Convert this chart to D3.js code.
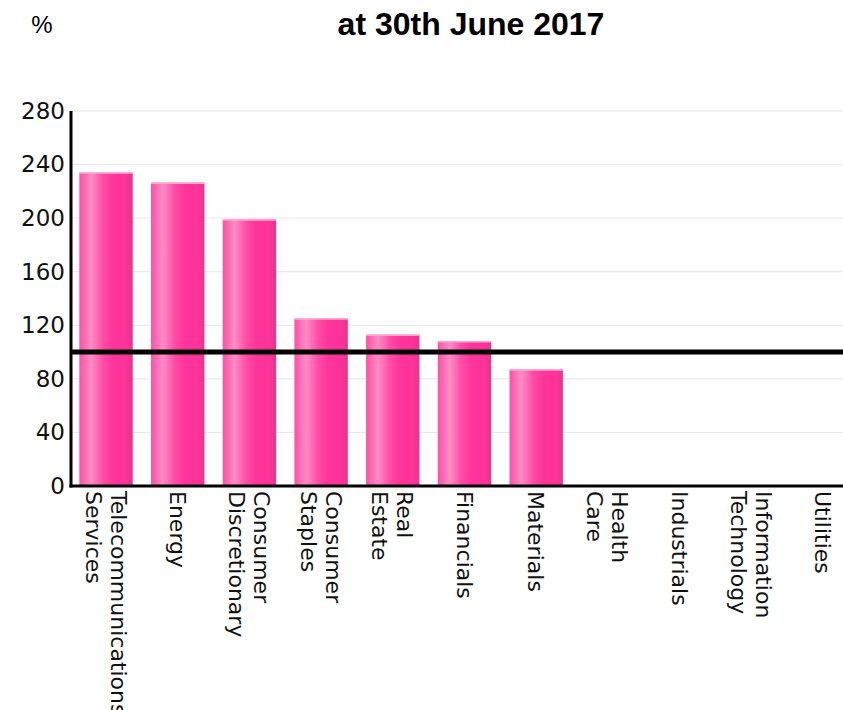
<!DOCTYPE html>
<html lang="en">
<head>
    <meta charset="UTF-8">
    <title>Sector weighting at 30th June 2017</title>
    <script src="https://d3js.org/d3.v7.min.js"></script>
    <style>
        body { margin: 0; background: #fff; }
        .title { font-family: "Liberation Sans", Arial, sans-serif; font-weight: bold; font-size: 32px; }
        .unit  { font-family: "Liberation Sans", Arial, sans-serif; font-size: 24px; }
        .tick text { font-family: "DejaVu Sans", sans-serif; }
    </style>
</head>
<body>
<svg height="710" width="843"></svg>

<script>
    const svg = d3.select("svg");

    // data
    const sectors = [
        ["Telecommunications", "Services"],
        ["Energy"],
        ["Consumer", "Discretionary"],
        ["Consumer", "Staples"],
        ["Real", "Estate"],
        ["Financials"],
        ["Materials"],
        ["Health", "Care"],
        ["Industrials"],
        ["Information", "Technology"],
        ["Utilities"]
    ];
    const weights   = [234, 226.5, 199, 125, 113, 108, 87, 0, 0, 0, 0];
    const yTicks    = [0, 40, 80, 120, 160, 200, 240, 280];
    const benchmark = 100;

    const names = sectors.map(d => d.join(" "));

    const x = d3.scaleBand()
        .domain(names)
        .range([71, 858])
        .paddingInner(0.255)
        .paddingOuter(0.116);

    const y = d3.scaleLinear()
        .domain([0, 280])
        .range([486, 111]);

    // bar gradient
    const grad = svg.append("defs").append("linearGradient")
        .attr("id", "barGrad").attr("x1", "0").attr("x2", "1").attr("y1", "0").attr("y2", "0");
    [[0, "#ff4fa8"], [0.22, "#ff8cc5"], [0.45, "#ff4aa5"], [0.65, "#ff3399"], [0.88, "#fd3398"], [1, "#e2388d"]]
        .forEach(([o, c]) => grad.append("stop").attr("offset", o).attr("stop-color", c));

    // title
    svg.append("text").attr("class", "title")
        .attr("x", 471).attr("y", 35).attr("text-anchor", "middle")
        .text("at 30th June 2017");
    svg.append("text").attr("class", "unit")
        .attr("x", 42).attr("y", 33).attr("text-anchor", "middle")
        .text("%");

    // gridlines
    svg.selectAll("line.grid")
        .data(yTicks.filter(d => d > 0))
        .join("line").attr("class", "grid")
          .attr("x1", 71).attr("x2", 843)
          .attr("y1", d => y(d)).attr("y2", d => y(d))
          .style("stroke", "#e6e6ef").style("stroke-width", 1);

    // bars
    const bars = svg.selectAll("g.bar")
        .data(names.map((n, i) => ({name: n, value: weights[i]})).filter(d => d.value > 0))
        .join("g").attr("class", "bar");
    bars.append("rect")
        .attr("x", d => x(d.name))
        .attr("y", d => y(d.value))
        .attr("width", x.bandwidth())
        .attr("height", d => y(0) - y(d.value))
        .style("fill", "url(#barGrad)");
    bars.append("line")
        .attr("x1", d => x(d.name)).attr("x2", d => x(d.name) + x.bandwidth())
        .attr("y1", d => y(d.value) + 0.5).attr("y2", d => y(d.value) + 0.5)
        .style("stroke", "#ffa6d0").style("stroke-width", 1.5);

    // y axis
    const yAxis = svg.append("g")
        .attr("transform", "translate(71,0)")
        .call(d3.axisLeft(y).tickValues(yTicks).tickSize(0).tickPadding(6));
    yAxis.select(".domain").remove();
    yAxis.selectAll(".tick text")
        .style("font-size", "23px").style("fill", "#111");

    svg.append("line")
        .attr("x1", 71).attr("x2", 71).attr("y1", y(280)).attr("y2", y(0) + 1.5)
        .style("stroke", "#000").style("stroke-width", 3);

    // x axis
    const xAxis = svg.append("g")
        .attr("transform", `translate(0,${y(0)})`)
        .call(d3.axisBottom(x).tickSize(0).tickFormat(""));
    xAxis.select(".domain").remove();

    svg.append("line")
        .attr("x1", 69.5).attr("x2", 843).attr("y1", y(0)).attr("y2", y(0))
        .style("stroke", "#000").style("stroke-width", 3);

    // rotated category labels
    const lh = 25;
    xAxis.selectAll(".tick").each(function(d, i) {
        const lines = sectors[i];
        const t = d3.select(this).select("text")
            .attr("transform", "translate(0,5) rotate(90)")
            .attr("x", 0).attr("y", 0).attr("dy", null)
            .attr("text-anchor", "start")
            .style("font-family", "'DejaVu Sans', sans-serif")
            .style("font-size", "22px")
            .style("fill", "#111");
        lines.forEach((l, j) => {
            t.append("tspan")
             .attr("x", 0)
             .attr("y", (j - (lines.length - 1) / 2) * lh + 8)
             .text(l);
        });
    });

    // benchmark line
    svg.append("line")
        .attr("x1", 71).attr("x2", 843)
        .attr("y1", y(benchmark)).attr("y2", y(benchmark))
        .style("stroke", "#000").style("stroke-width", 5);
</script>

</body>
</html>
